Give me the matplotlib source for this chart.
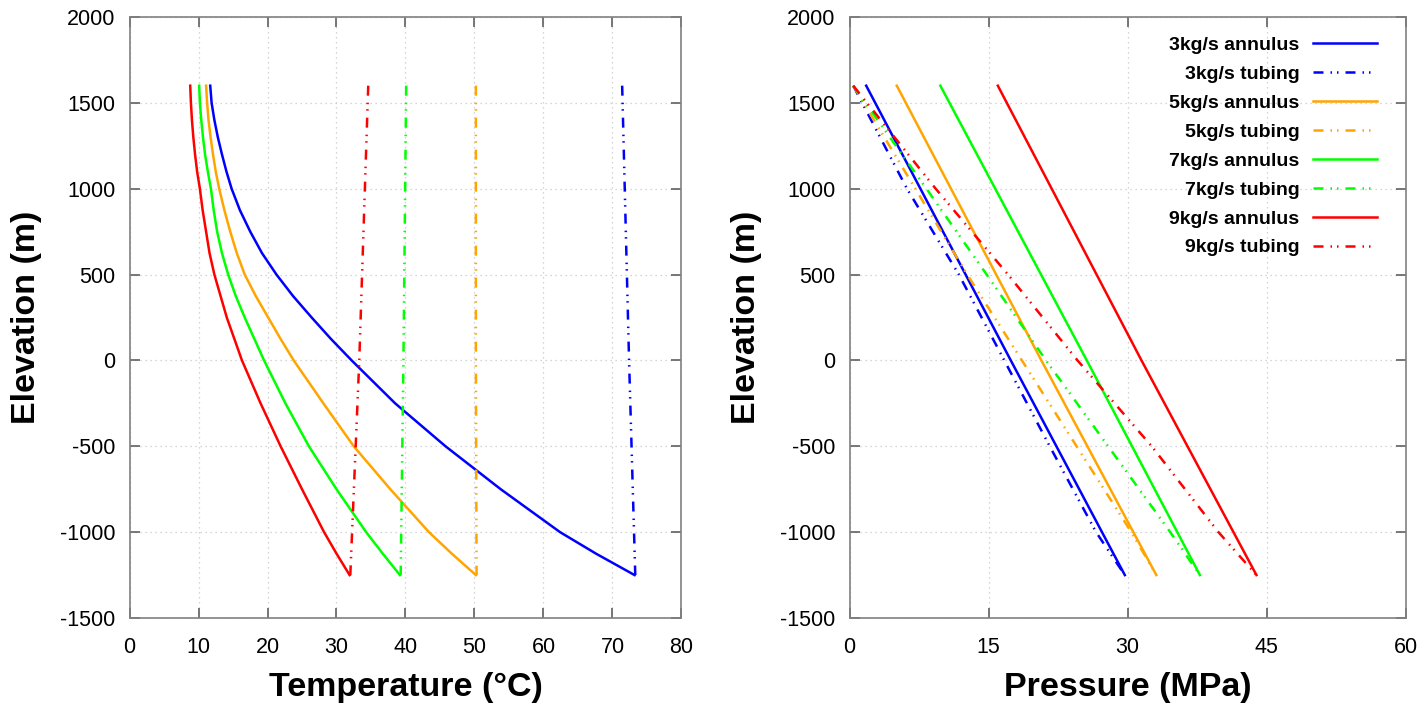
import matplotlib
matplotlib.use("Agg")
import matplotlib.pyplot as plt

plt.rcParams["font.family"] = ["Liberation Sans", "DejaVu Sans"]
plt.rcParams["axes.unicode_minus"] = False

# left panel: temperature profiles
elev_annulus = [1600, 1500, 1400, 1300, 1200, 1100, 1000, 875, 750, 625, 500, 375,
                250, 125, 0, -250, -500, -750, -1000, -1125, -1250]
temp_annulus_3 = [11.7, 11.9, 12.3, 12.8, 13.4, 14.05, 14.8, 16.0, 17.5, 19.2, 21.3, 23.7,
                  26.4, 29.2, 32.2, 38.5, 45.8, 53.8, 62.4, 67.6, 73.2]
temp_annulus_5 = [11.1, 11.25, 11.45, 11.75, 12.1, 12.5, 13.0, 13.75, 14.6, 15.55, 16.7, 18.3,
                  20.1, 21.9, 23.8, 28.1, 32.5, 37.8, 43.4, 46.7, 50.2]
temp_annulus_7 = [10.1, 10.2, 10.4, 10.65, 10.95, 11.35, 11.8, 12.2, 12.7, 13.4, 14.3, 15.4,
                  16.7, 18.1, 19.5, 22.6, 26.0, 30.0, 34.3, 36.7, 39.2]
temp_annulus_9 = [8.8, 8.9, 9.05, 9.25, 9.5, 9.8, 10.2, 10.6, 11.1, 11.6, 12.3, 13.2,
                  14.1, 15.2, 16.3, 19.0, 21.9, 25.0, 28.2, 30.0, 31.9]

elev_tubing_T = [1600, 0, -1250]
temp_tubing_3 = [71.4, 72.4, 73.3]
temp_tubing_5 = [50.2, 50.2, 50.3]
temp_tubing_7 = [40.1, 39.7, 39.3]
temp_tubing_9 = [34.6, 33.3, 32.0]

# right panel: pressure profiles
elev_annulus_P = [1600, 0, -1250]
pres_annulus_3 = [1.8, 17.4, 29.7]
pres_annulus_5 = [5.1, 20.7, 33.1]
pres_annulus_7 = [9.8, 25.6, 37.8]
pres_annulus_9 = [16.0, 31.5, 43.9]

elev_tubing_P = [1600, 1000, 500, 0, -500, -1000, -1250]
pres_tubing_3 = [0.4, 6.2, 11.8, 16.7, 21.6, 26.6, 29.7]
pres_tubing_5 = [0.4, 7.1, 12.7, 18.6, 24.5, 30.4, 33.1]
pres_tubing_7 = [0.4, 8.3, 14.8, 21.2, 27.9, 34.6, 37.8]
pres_tubing_9 = [0.4, 9.3, 17.1, 24.6, 32.6, 39.8, 43.9]

flows = ["3kg/s", "5kg/s", "7kg/s", "9kg/s"]
colors = ["#0000ff", "#ffa500", "#00ff00", "#ff0000"]

# long dash followed by two small dots, like the original plotting program
tube_dash = (4, 2.8, 0.6, 2.0, 0.6, 2.8)

fig = plt.figure(figsize=(14.27, 7.12), dpi=100)
ax1 = fig.add_axes([129.5 / 1427, 1 - 618 / 712, (681.5 - 129.5) / 1427, 601 / 712])
ax2 = fig.add_axes([849.5 / 1427, 1 - 618 / 712, (1405.7 - 849.5) / 1427, 601 / 712])

ann_T = [temp_annulus_3, temp_annulus_5, temp_annulus_7, temp_annulus_9]
tub_T = [temp_tubing_3, temp_tubing_5, temp_tubing_7, temp_tubing_9]
ann_P = [pres_annulus_3, pres_annulus_5, pres_annulus_7, pres_annulus_9]
tub_P = [pres_tubing_3, pres_tubing_5, pres_tubing_7, pres_tubing_9]

for i in range(4):
    ax1.plot(ann_T[i], elev_annulus, color=colors[i], lw=1.8)
    ax1.plot(tub_T[i], elev_tubing_T, color=colors[i], lw=1.8, dashes=tube_dash)
    ax2.plot(ann_P[i], elev_annulus_P, color=colors[i], lw=1.8, label=flows[i] + " annulus")
    ax2.plot(tub_P[i], elev_tubing_P, color=colors[i], lw=1.8, dashes=tube_dash,
             label=flows[i] + " tubing")

for ax in (ax1, ax2):
    ax.set_ylim(-1500, 2000)
    ax.set_yticks(range(-1500, 2001, 500))
    ax.grid(True, color="#c8c8c8", linestyle=(0, (1, 3)), linewidth=0.9)
    ax.tick_params(direction="in", length=7, width=1.2, color="#606060",
                   top=True, right=True, labelsize=15.5, pad=10)
    ax.tick_params(axis="x", pad=14)
    for s in ax.spines.values():
        s.set_color("#808080")
        s.set_linewidth(1.2)
    ax.set_ylabel("Elevation (m)", fontsize=24.5, fontweight="bold", labelpad=13)

ax1.set_xlim(0, 80)
ax1.set_xticks(range(0, 81, 10))
ax1.set_xlabel("Temperature (°C)", fontsize=24.5, fontweight="bold", labelpad=10)

ax2.set_xlim(0, 60)
ax2.set_xticks(range(0, 61, 15))
ax2.set_xlabel("Pressure (MPa)", fontsize=24.5, fontweight="bold", labelpad=10)

leg = ax2.legend(loc="upper right", bbox_to_anchor=(0.973, 0.99), frameon=False,
                 markerfirst=False, handlelength=3.3, handletextpad=0.7,
                 labelspacing=0.58, borderpad=0.2,
                 prop={"size": 14, "weight": "bold"})

fig.savefig("out.png", dpi=100)
